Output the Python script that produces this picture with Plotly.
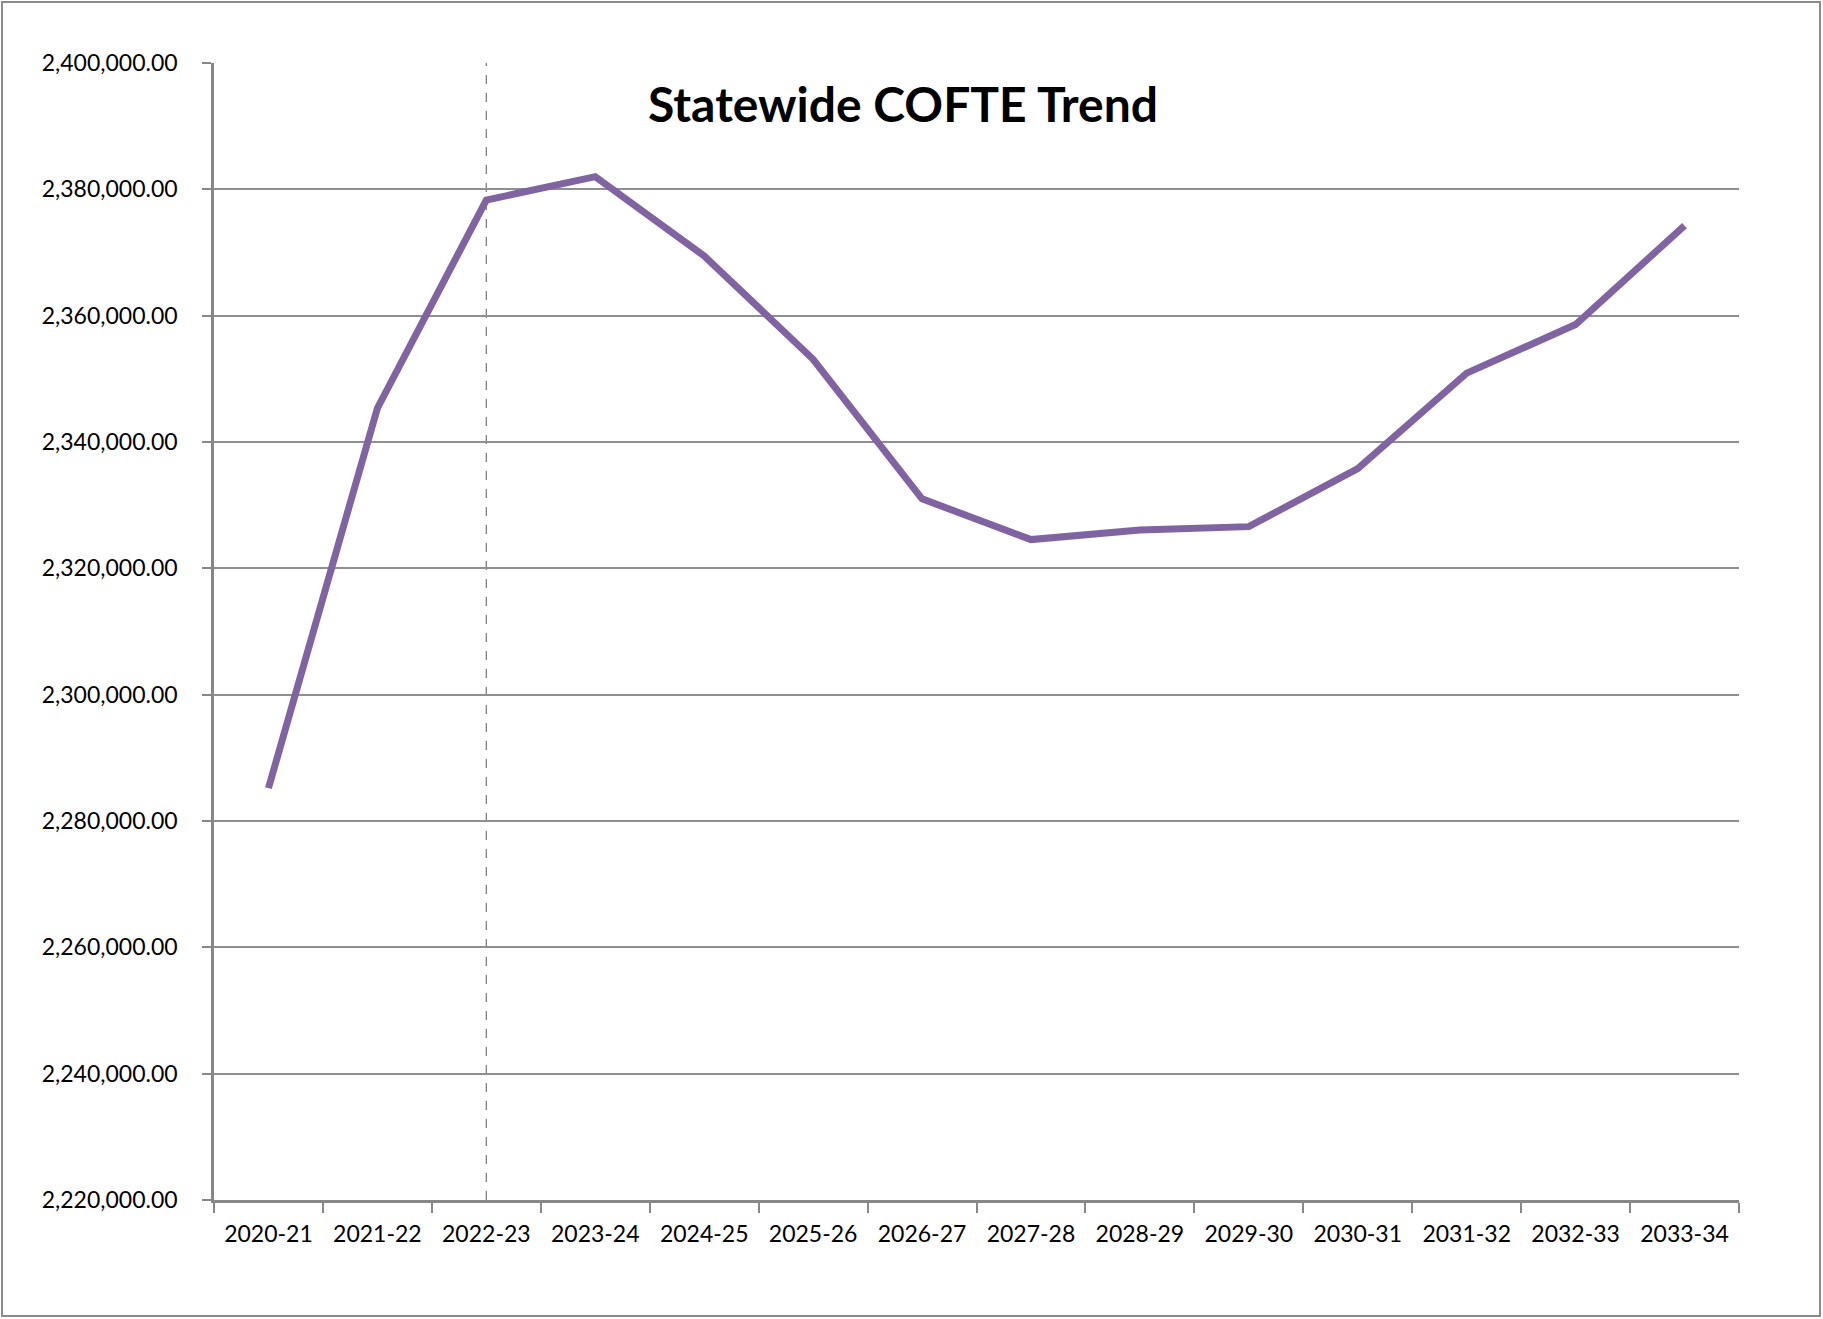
import plotly.graph_objects as go

years = ["2020-21", "2021-22", "2022-23", "2023-24", "2024-25", "2025-26", "2026-27",
         "2027-28", "2028-29", "2029-30", "2030-31", "2031-32", "2032-33", "2033-34"]
cofte = [2285200, 2345350, 2378300, 2382000, 2369450, 2353100, 2331000,
         2324550, 2326050, 2326600, 2335800, 2350900, 2358600, 2374250]
divider_year = "2022-23"
title_text = "Statewide COFTE Trend"

W, H = 1823, 1319
L, R, T, B = 214, 84, 63, 119
pw, ph = W - L - R, H - T - B

FONT = "Lato, 'Open Sans', sans-serif"
AXIS_GRAY = "#878787"

fig = go.Figure()
fig.add_trace(go.Scatter(
    x=years, y=cofte, mode="lines",
    line=dict(color="#8064A2", width=7),
    hoverinfo="x+y", showlegend=False,
))

# dashed divider
fig.add_shape(type="line", xref="x", yref="paper", x0=divider_year, x1=divider_year,
              y0=0, y1=1, line=dict(color="#7f7f7f", width=1.3, dash="dash"), layer="below")

# outer chart border
fig.add_shape(type="rect", xref="paper", yref="paper",
              x0=(2 - L) / pw, x1=(W - 3 - L) / pw,
              y0=-(H - 3 - T - ph) / ph, y1=1 + (T - 2) / ph,
              line=dict(color="#8c8c8c", width=2), fillcolor="rgba(0,0,0,0)", layer="below")

fig.update_layout(
    width=W, height=H,
    margin=dict(l=L, r=R, t=T, b=B),
    paper_bgcolor="white", plot_bgcolor="white",
    font=dict(family=FONT, color="black", size=23),
    title=dict(text=f"<b>{title_text}</b>", xref="container", yref="container",
               x=903 / W, y=1 - 105 / H, xanchor="center", yanchor="middle",
               font=dict(family=FONT, size=48, color="black")),
)
fig.update_xaxes(
    type="category", range=[-0.5, len(years) - 0.5],
    showline=True, linecolor=AXIS_GRAY, linewidth=2.5,
    ticks="outside", tickson="boundaries", ticklen=10, tickwidth=2, tickcolor=AXIS_GRAY,
    showgrid=False, tickfont=dict(size=23, family=FONT), ticklabelstandoff=12,
)
fig.update_yaxes(
    range=[2220000, 2400000], dtick=20000, tick0=2220000, tickformat=",.2f",
    showline=True, linecolor=AXIS_GRAY, linewidth=2.5,
    ticks="outside", ticklen=9, tickwidth=2, tickcolor=AXIS_GRAY,
    showgrid=True, gridcolor="#8f8f8f", gridwidth=1.5, zeroline=False,
    tickfont=dict(size=23, family=FONT), ticklabelstandoff=20,
)

fig.write_html("out.html", config={"displayModeBar": False},
               post_script="document.body.style.margin='0';")
